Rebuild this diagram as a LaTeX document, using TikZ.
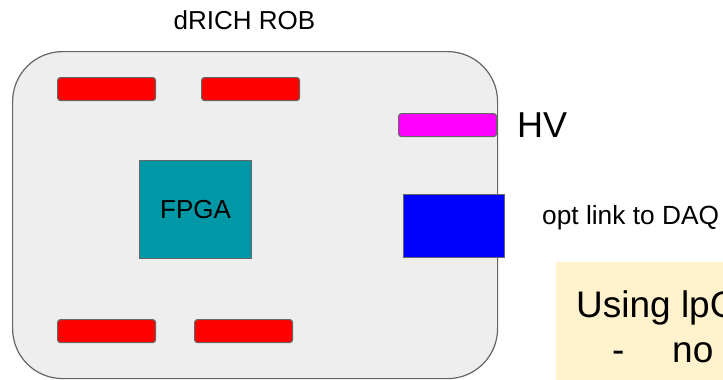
\documentclass[tikz,border=0pt]{standalone}
\usepackage{fontspec}
\setmainfont{Liberation Sans}
\definecolor{boardgray}{HTML}{EEEEEE}
\definecolor{edgegray}{HTML}{666666}
\definecolor{fpgateal}{HTML}{0097A7}
\definecolor{notebg}{HTML}{FFF2CC}
\definecolor{hvmagenta}{HTML}{FF00FF}
\definecolor{optblue}{HTML}{0000FF}
\definecolor{connred}{HTML}{FF0000}
\begin{document}
\begin{tikzpicture}[x=1pt,y=-1pt,
  part/.style={draw=edgegray, line width=1.2pt, inner sep=0pt, anchor=north west},
  conn/.style={part, rounded corners=3pt, minimum width=98pt, minimum height=23pt, fill=connred},
  lbl/.style={inner sep=0pt, text=black}
]
\useasboundingbox (0,0) rectangle (723,380);
\fill[white] (0,0) rectangle (723,380);
% board
\node[part, fill=boardgray, rounded corners=50pt, minimum width=485pt, minimum height=327pt] (rob) at (12,51) {};
\node[lbl, font=\fontsize{26}{30}\selectfont] (title) at (244.5,20.5) {dRICH ROB};
% connectors
\node[conn] (c1) at (57,77) {};
\node[conn] (c2) at (201,77) {};
\node[conn] (c3) at (57,319) {};
\node[conn] (c4) at (194,319) {};
% FPGA
\node[part, fill=fpgateal, minimum width=112pt, minimum height=98pt, font=\fontsize{26}{30}\selectfont] (fpga) at (139,160) {FPGA};
% HV
\node[part, fill=hvmagenta, rounded corners=3pt, minimum width=98pt, minimum height=23pt] (hv) at (398,113) {};
\node[lbl, anchor=west, font=\fontsize{36}{40}\selectfont] (hvlbl) at (517,125) {HV};
% optical link
\node[part, fill=optblue, minimum width=101pt, minimum height=63pt] (opt) at (403,194) {};
\node[lbl, anchor=west, font=\fontsize{26.3}{30}\selectfont] (optlbl) at (542,218) {opt link to DAQ};
% note
\begin{scope}
\clip (0,0) rectangle (723,380);
\node[fill=notebg, inner sep=0pt, anchor=north west, minimum width=180pt, minimum height=130pt] (note) at (556,262) {};
\node[lbl, anchor=base west, font=\fontsize{37}{44}\selectfont] (n1) at (576,317) {Using lpGBT};
\node[lbl, anchor=base west, font=\fontsize{37}{44}\selectfont] (n2a) at (612,362) {-};
\node[lbl, anchor=base west, font=\fontsize{37}{44}\selectfont] (n2b) at (672,362) {no};
\end{scope}
\end{tikzpicture}
\end{document}
